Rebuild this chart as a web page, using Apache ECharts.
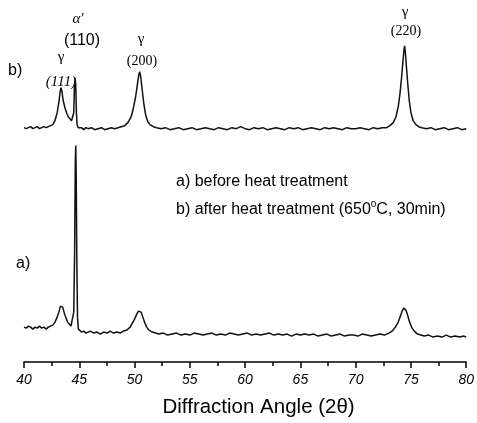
<!DOCTYPE html>
<html>
<head>
<meta charset="utf-8">
<script src="https://cdn.jsdelivr.net/npm/echarts@6/dist/echarts.min.js"></script>
<style>html,body{margin:0;padding:0;background:#fff}#c{width:477px;height:423px}</style>
</head>
<body>
<div id="c"></div>
<script>
// Diffraction angle (2θ) ticks
var xTicks = [40, 45, 50, 55, 60, 65, 70, 75, 80];
// a) before heat treatment: [2θ, intensity (a.u.)]
var traceA = [
[40.0,35],[40.2,34],[40.4,36],[40.6,35],[40.8,33],[41.0,35],[41.2,34],[41.4,36],[41.6,34],[41.8,35],
[42.0,33],[42.2,35],[42.4,36],[42.6,37],[42.8,40],[43.0,45],[43.15,50],[43.3,56],[43.4,58],[43.5,55],
[43.65,49],[43.8,44],[43.95,40],[44.1,38],[44.25,36],[44.4,38],[44.5,50],[44.58,110],[44.64,200],[44.68,217],
[44.72,190],[44.78,100],[44.84,45],[44.92,33],[45.0,31],[45.2,30],[45.4,31],[45.6,29],[45.8,30],[46.0,31],
[46.3,29],[46.6,30],[46.9,28],[47.2,30],[47.5,29],[47.8,31],[48.1,29],[48.4,30],[48.7,29],[49.0,31],
[49.3,32],[49.6,35],[49.8,39],[50.0,43],[50.2,48],[50.35,51],[50.47,53],[50.6,50],[50.75,45],[50.9,40],
[51.1,35],[51.3,32],[51.6,30],[51.9,29],[52.2,28],[52.6,29],[53.0,27],[53.4,28],[53.8,29],[54.2,27],
[54.6,28],[55.0,27],[55.4,29],[55.8,28],[56.2,27],[56.6,28],[57.0,29],[57.4,27],[57.8,28],[58.2,27],
[58.6,29],[59.0,28],[59.4,27],[59.8,28],[60.2,29],[60.6,27],[61.0,28],[61.4,27],[61.8,28],[62.2,29],
[62.6,27],[63.0,28],[63.4,27],[63.8,28],[64.2,26],[64.6,28],[65.0,27],[65.4,28],[65.8,27],[66.2,28],
[66.6,26],[67.0,27],[67.4,28],[67.8,26],[68.2,27],[68.6,28],[69.0,26],[69.4,27],[69.8,27],[70.2,26],
[70.6,28],[71.0,27],[71.4,26],[71.8,27],[72.2,28],[72.6,27],[73.0,29],[73.3,31],[73.6,35],[73.85,40],
[74.05,46],[74.2,51],[74.35,54],[74.45,55],[74.55,52],[74.7,47],[74.85,41],[75.05,35],[75.3,31],[75.6,28],
[75.9,27],[76.2,26],[76.6,27],[77.0,25],[77.4,26],[77.8,25],[78.2,27],[78.6,25],[79.0,26],[79.4,25],
[79.8,26],[80.0,25]
];
// b) after heat treatment (650°C, 30min): [2θ, intensity (a.u.)]
var traceB = [
[40.0,35],[40.2,34],[40.4,35],[40.6,36],[40.8,34],[41.0,35],[41.2,36],[41.4,34],[41.6,35],[41.8,36],
[42.0,35],[42.2,36],[42.4,37],[42.6,38],[42.8,42],[43.0,50],[43.15,60],[43.28,72],[43.35,75],[43.42,72],
[43.55,62],[43.7,55],[43.85,50],[44.0,46],[44.15,44],[44.3,42],[44.4,41],[44.5,50],[44.56,75],[44.62,85],
[44.68,78],[44.74,50],[44.8,38],[44.9,35],[45.0,34],[45.2,35],[45.4,33],[45.6,35],[45.8,34],[46.1,35],
[46.4,33],[46.7,34],[47.0,35],[47.3,33],[47.6,34],[47.9,35],[48.2,34],[48.5,35],[48.8,36],[49.1,37],
[49.4,40],[49.7,46],[49.9,55],[50.1,66],[50.25,78],[50.38,88],[50.47,91],[50.56,86],[50.7,72],[50.85,58],
[51.0,48],[51.2,41],[51.4,38],[51.7,36],[52.0,35],[52.4,34],[52.8,35],[53.2,33],[53.6,34],[54.0,35],
[54.4,33],[54.8,34],[55.2,35],[55.6,33],[56.0,34],[56.4,35],[56.8,34],[57.2,33],[57.6,35],[58.0,34],
[58.4,33],[58.8,35],[59.2,34],[59.6,36],[60.0,34],[60.4,33],[60.8,35],[61.2,34],[61.6,35],[62.0,33],
[62.4,34],[62.8,35],[63.2,34],[63.6,33],[64.0,35],[64.4,34],[64.8,35],[65.2,33],[65.6,34],[66.0,35],
[66.4,34],[66.8,33],[67.2,35],[67.6,34],[68.0,35],[68.4,34],[68.8,33],[69.2,35],[69.6,34],[70.0,34],
[70.4,35],[70.8,34],[71.2,33],[71.6,35],[72.0,34],[72.4,35],[72.8,35],[73.1,37],[73.4,40],[73.65,46],
[73.85,56],[74.0,68],[74.15,85],[74.28,102],[74.38,114],[74.43,117],[74.5,110],[74.6,95],[74.72,78],[74.85,62],
[75.0,50],[75.2,42],[75.45,38],[75.7,36],[76.0,35],[76.4,34],[76.8,35],[77.2,33],[77.6,34],[78.0,35],
[78.4,33],[78.8,34],[79.2,35],[79.6,33],[80.0,34]
];
var offsetB = 200; // vertical stacking offset of trace b)

var chart = echarts.init(document.getElementById('c'), null, {renderer: 'canvas'});
var sans = 'Liberation Sans, Arial, sans-serif';
var serif = 'Liberation Serif, Times New Roman, serif';
chart.setOption({
  animation: false,
  backgroundColor: '#fff',
  grid: {left: 24, right: 9, top: 10, bottom: 60},
  xAxis: {
    type: 'value', min: xTicks[0], max: xTicks[xTicks.length - 1], interval: 5,
    axisLine: {show: true, lineStyle: {color: '#000', width: 1.5}},
    axisTick: {show: true, inside: false, length: 6, lineStyle: {color: '#000', width: 1.5}},
    minorTick: {show: true, splitNumber: 2, length: 4, lineStyle: {color: '#000', width: 1.5}},
    splitLine: {show: false},
    axisLabel: {color: '#000', fontFamily: sans, fontStyle: 'italic', fontSize: 14, margin: 11},
    name: 'Diffraction Angle (2θ)', nameLocation: 'middle', nameGap: 35,
    nameTextStyle: {color: '#000', fontFamily: sans, fontSize: 20.5, padding: [0, 0, 0, 27]}
  },
  yAxis: {type: 'value', min: 0, max: 353, show: false},
  series: [
    {type: 'line', data: traceA, symbol: 'none', lineStyle: {color: '#111', width: 1.5}},
    {type: 'line', data: traceB.map(function(p){return [p[0], p[1] + offsetB];}), symbol: 'none', lineStyle: {color: '#111', width: 1.5}}
  ],
  graphic: [
    {type: 'text', left: 8, top: 63, style: {text: 'b)', font: '16px ' + sans, fill: '#000'}},
    {type: 'text', left: 16, top: 256, style: {text: 'a)', font: '16px ' + sans, fill: '#000'}},
    {type: 'text', left: 176, top: 174, style: {text: 'a) before heat treatment', font: '16px ' + sans, fill: '#000'}},
    {type: 'text', left: 176, top: 199, style: {
      text: '{n|b) after heat treatment (650}{s|o}{n|C, 30min)}',
      rich: {n: {font: '16px ' + sans, fill: '#000', verticalAlign: 'bottom'}, s: {font: '10px ' + sans, fill: '#000', verticalAlign: 'top', padding: [0,0,9,0]}}
    }},
    {type: 'text', x: 61, y: 57, style: {text: 'γ', font: '15px ' + serif, fill: '#000', align: 'center', verticalAlign: 'middle'}},
    {type: 'text', x: 61, y: 82, style: {text: '(111)', font: 'italic 15px ' + serif, fill: '#000', align: 'center', verticalAlign: 'middle'}},
    {type: 'text', x: 78, y: 19, style: {text: "α'", font: 'italic 15px ' + serif, fill: '#000', align: 'center', verticalAlign: 'middle'}},
    {type: 'text', x: 82, y: 41, style: {text: '(110)', font: '16px ' + sans, fill: '#000', align: 'center', verticalAlign: 'middle'}},
    {type: 'text', x: 141, y: 39, style: {text: 'γ', font: '15px ' + serif, fill: '#000', align: 'center', verticalAlign: 'middle'}},
    {type: 'text', x: 142, y: 61, style: {text: '(200)', font: '14px ' + serif, fill: '#000', align: 'center', verticalAlign: 'middle'}},
    {type: 'text', x: 405, y: 12, style: {text: 'γ', font: '15px ' + serif, fill: '#000', align: 'center', verticalAlign: 'middle'}},
    {type: 'text', x: 406, y: 31, style: {text: '(220)', font: '14px ' + serif, fill: '#000', align: 'center', verticalAlign: 'middle'}}
  ]
});
</script>
</body>
</html>
